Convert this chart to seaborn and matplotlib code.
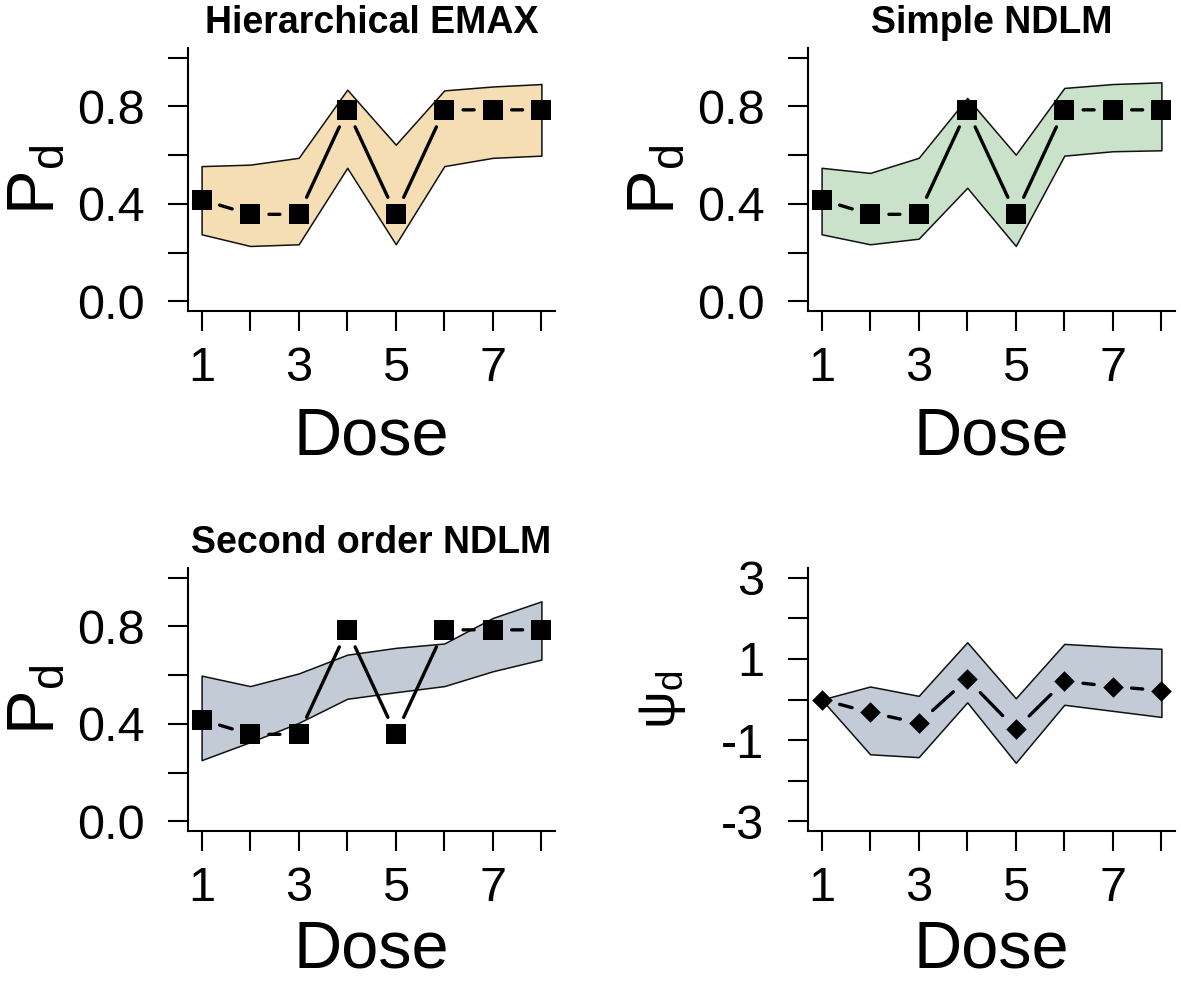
import numpy as np
import pandas as pd
import matplotlib
matplotlib.use("Agg")
import matplotlib.pyplot as plt
import seaborn as sns

# values
dose = [1, 2, 3, 4, 5, 6, 7, 8]
dose_labels = ["1", "", "3", "", "5", "", "7", ""]

observed_p = [0.417, 0.357, 0.357, 0.786, 0.357, 0.786, 0.786, 0.786]

emax_lower = [0.275, 0.227, 0.234, 0.548, 0.234, 0.555, 0.589, 0.598]
emax_upper = [0.555, 0.561, 0.589, 0.869, 0.643, 0.866, 0.882, 0.892]

ndlm_lower = [0.275, 0.234, 0.257, 0.466, 0.227, 0.598, 0.616, 0.620]
ndlm_upper = [0.548, 0.527, 0.589, 0.835, 0.602, 0.876, 0.892, 0.899]

ndlm2_lower = [0.251, 0.325, 0.404, 0.503, 0.530, 0.555, 0.616, 0.664]
ndlm2_upper = [0.598, 0.555, 0.607, 0.684, 0.712, 0.730, 0.835, 0.903]

psi_mean = [0.0, -0.32, -0.58, 0.50, -0.73, 0.45, 0.32, 0.22]
psi_lower = [0.0, -1.35, -1.42, -0.07, -1.56, -0.13, -0.28, -0.43]
psi_upper = [0.0, 0.32, 0.09, 1.41, 0.03, 1.37, 1.30, 1.25]

p_ticks = [0.0, 0.2, 0.4, 0.6, 0.8, 1.0]
p_labels = ["0.0", "", "0.4", "", "0.8", ""]
psi_ticks = [-3, -2, -1, 0, 1, 2, 3]
psi_labels = ["-3", "", "-1", "", "1", "", "3"]

sns.set_style("ticks")
plt.rcParams["font.family"] = ["Liberation Sans", "DejaVu Sans"]
plt.rcParams["mathtext.fontset"] = "custom"
plt.rcParams["mathtext.rm"] = "Liberation Sans"
plt.rcParams["mathtext.it"] = "Liberation Sans:italic"
plt.rcParams["mathtext.bf"] = "Liberation Sans:bold"
for k in ["text.color", "axes.labelcolor", "xtick.color", "ytick.color", "axes.edgecolor"]:
    plt.rcParams[k] = "black"

fig = plt.figure(figsize=(11.81, 9.83), dpi=100)
W, H = 1181, 983
w, h = 367 / W, 263 / H
pos = {
    "tl": [188 / W, 1 - 311 / H, w, h],
    "tr": [808 / W, 1 - 311 / H, w, h],
    "bl": [188 / W, 1 - 831 / H, w, h],
    "br": [808 / W, 1 - 831 / H, w, h],
}


def panel(key, lower, upper, yvals, fill, title, ylabel, yticks, ylabels, ylim,
          marker="s", msize=225, ylab_size=48, xlab_y=-0.365):
    ax = fig.add_axes(pos[key])
    ax.set_xlim(0.72, 8.28)
    ax.set_ylim(*ylim)
    ax.fill_between(dose, lower, upper, facecolor=fill, edgecolor="#111111",
                    linewidth=1.1, zorder=1)
    # type="b" style: solid segments that stop short of each point
    for i in range(len(dose) - 1):
        ax.annotate("", xy=(dose[i + 1], yvals[i + 1]), xytext=(dose[i], yvals[i]),
                    arrowprops=dict(arrowstyle="-", shrinkA=13.5, shrinkB=13.5,
                                    lw=2.4, color="black"), zorder=3)
    df = pd.DataFrame({"dose": dose, "value": yvals})
    sns.scatterplot(data=df, x="dose", y="value", marker=marker, s=msize,
                    color="black", linewidth=0, ax=ax, zorder=4, clip_on=False)
    ax.set_xticks(dose)
    ax.set_xticklabels(dose_labels)
    ax.set_yticks(yticks)
    ax.set_yticklabels(ylabels)
    ax.tick_params(axis="both", direction="out", length=14.4, width=1.5,
                   labelsize=35, color="black", labelcolor="black")
    ax.tick_params(axis="x", pad=11)
    ax.tick_params(axis="y", pad=17)
    for s in ["top", "right"]:
        ax.spines[s].set_visible(False)
    for s in ["left", "bottom"]:
        ax.spines[s].set_linewidth(1.5)
        ax.spines[s].set_color("black")
    ax.set_xlabel("Dose", fontsize=48)
    ax.xaxis.set_label_coords(0.5, xlab_y)
    ax.set_ylabel(ylabel, fontsize=ylab_size)
    ax.yaxis.set_label_coords(-120 / 367, 0.5)
    if title:
        ax.set_title(title, fontsize=27, fontweight="bold", pad=11)
    return ax


panel("tl", emax_lower, emax_upper, observed_p, "#F5DEB3", "Hierarchical EMAX",
      r"$\mathregular{P_d}$", p_ticks, p_labels, (-0.04, 1.04))
panel("tr", ndlm_lower, ndlm_upper, observed_p, "#C9E2C9", "Simple NDLM",
      r"$\mathregular{P_d}$", p_ticks, p_labels, (-0.04, 1.04))
panel("bl", ndlm2_lower, ndlm2_upper, observed_p, "#C3CCD6", "Second order NDLM",
      r"$\mathregular{P_d}$", p_ticks, p_labels, (-0.04, 1.04), xlab_y=-0.335)
panel("br", psi_lower, psi_upper, psi_mean, "#C3CCD6", None,
      r"$\mathregular{\psi_d}$", psi_ticks, psi_labels, (-3.24, 3.24),
      marker="D", msize=110, ylab_size=38, xlab_y=-0.335)

fig.savefig("out.png", dpi=100, facecolor="white")
